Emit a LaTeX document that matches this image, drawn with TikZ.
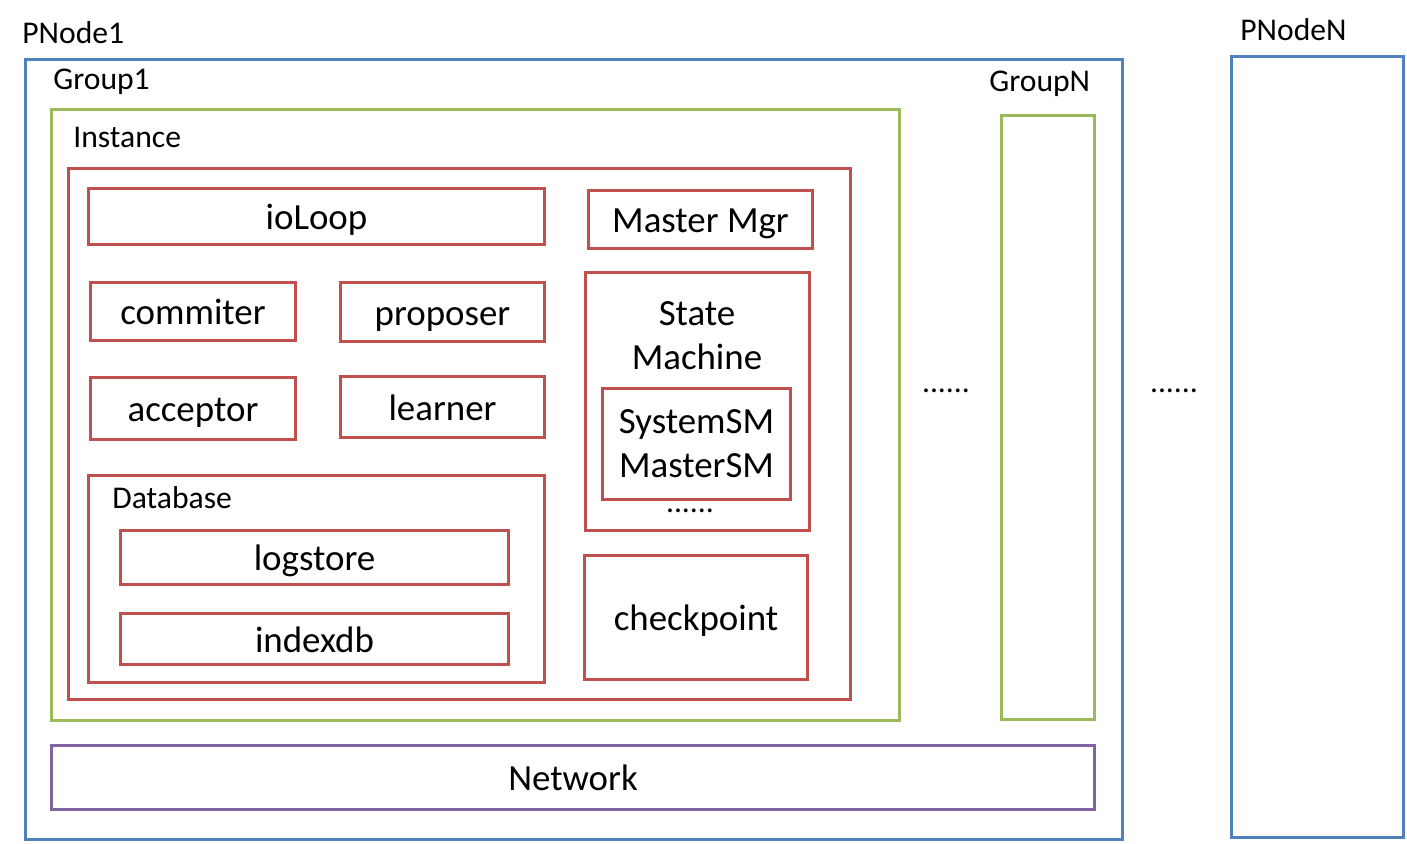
\documentclass[tikz,border=0pt]{standalone}
\usepackage{fontspec}
\setmainfont{Carlito}
\usetikzlibrary{positioning}
\definecolor{nodeblue}{HTML}{4F81BD}
\definecolor{groupgreen}{HTML}{9BBB59}
\definecolor{instred}{HTML}{C0504D}
\definecolor{netpurple}{HTML}{8064A2}

\begin{document}
\begin{tikzpicture}[
    x=0.02cm, y=-0.02cm,
    box/.style={draw=#1, line width=1.7pt, inner sep=0pt, font=\fontsize{21}{25}\selectfont, align=center},
    word/.style={box=#1, text height=16pt, text depth=1pt},
    tag/.style={inner sep=0pt, anchor=base west, font=\fontsize{18}{22}\selectfont},
    dots/.style={inner sep=0pt, font=\fontsize{18}{22}\selectfont}
]
    \useasboundingbox (0,0) rectangle (1407,844);

    % Physical nodes
    \node[box=nodeblue, minimum width=21.94cm, minimum height=15.6cm] (pnode1) at (574, 449.5) {};
    \node[tag] (pnode1lbl) at (22, 44) {PNode1};
    \node[box=nodeblue, minimum width=3.44cm, minimum height=15.62cm] (pnodeN) at (1317.5, 447) {};
    \node[tag] (pnodeNlbl) at (1240, 41) {PNodeN};
    \node[dots] (pdots) at (1174, 391) {......};

    % Groups
    \node[box=groupgreen, minimum width=16.96cm, minimum height=12.22cm] (group1) at (475.5, 415) {};
    \node[tag] (group1lbl) at (53, 90) {Group1};
    \node[box=groupgreen, minimum width=1.86cm, minimum height=12.08cm] (groupN) at (1048, 417.5) {};
    \node[tag] (groupNlbl) at (989, 92) {GroupN};
    \node[dots] (gdots) at (946, 391) {......};

    % Instance
    \node[box=instred, minimum width=15.64cm, minimum height=10.62cm] (instance) at (459.5, 434) {};
    \node[tag] (instancelbl) at (73, 148) {Instance};

    \node[word=instred, minimum width=9.12cm, minimum height=1.12cm] (ioloop) at (316.5, 216.5) {ioLoop};
    \node[word=instred, minimum width=4.48cm, minimum height=1.16cm] (mastermgr) at (700.5, 219.5) {Master Mgr};
    \node[word=instred, minimum width=4.1cm, minimum height=1.16cm] (commiter) at (193, 311.5) {commiter};
    \node[word=instred, minimum width=4.08cm, minimum height=1.18cm] (proposer) at (442.5, 312) {proposer};
    \node[word=instred, minimum width=4.1cm, minimum height=1.24cm] (acceptor) at (193, 408.5) {acceptor};
    \node[word=instred, minimum width=4.08cm, minimum height=1.22cm] (learner) at (442.5, 407) {learner};

    % State machine
    \node[box=instred, minimum width=4.48cm, minimum height=5.16cm] (statemachine) at (697.5, 401.5) {};
    \node[inner sep=0pt, align=center, font=\fontsize{21}{25}\selectfont] (smlbl) at (697, 336) {State\\Machine};
    \node[box=instred, minimum width=3.76cm, minimum height=2.22cm] (smlist) at (696.5, 444) {SystemSM\\MasterSM};
    \node[dots] (smdots) at (690, 511) {......};

    % Database
    \node[box=instred, minimum width=9.12cm, minimum height=4.14cm] (database) at (316.5, 579) {};
    \node[tag] (databaselbl) at (112, 509) {Database};
    \node[word=instred, minimum width=7.76cm, minimum height=1.08cm] (logstore) at (314.5, 557.5) {logstore};
    \node[word=instred, minimum width=7.76cm, minimum height=1.02cm] (indexdb) at (314.5, 639) {indexdb};

    \node[word=instred, minimum width=4.46cm, minimum height=2.48cm] (checkpoint) at (696, 617.5) {checkpoint};

    % Network
    \node[word=netpurple, minimum width=20.86cm, minimum height=1.28cm] (network) at (573, 777.5) {Network};
\end{tikzpicture}
\end{document}
